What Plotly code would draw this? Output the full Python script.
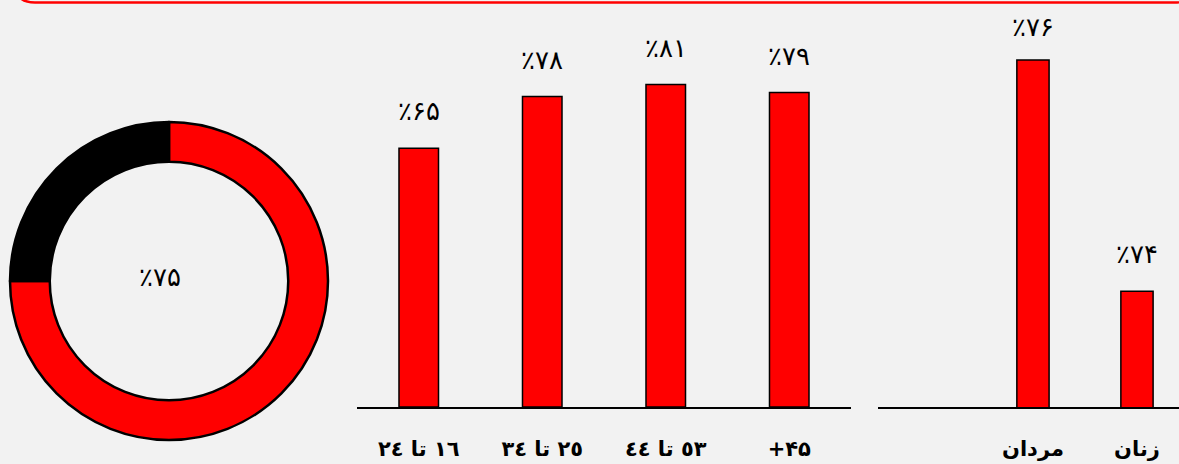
import plotly.graph_objects as go

W, H = 1179, 464

# ---------------- data ----------------
donut_labels = ["بله", "خیر"]
donut_values = [75, 25]
donut_center_text = "٪۷۵"

age_categories = ["١٦ تا ٢٤", "٢٥ تا ٣٤", "٥٣ تا ٤٤", "+۴۵"]
age_values = [65, 78, 81, 79]
age_value_labels = ["٪۶۵", "٪۷۸", "٪۸۱", "٪۷۹"]

gender_categories = ["مردان", "زنان"]
gender_values = [76, 74]
gender_value_labels = ["٪۷۶", "٪۷۴"]

# ---------------- helpers ----------------
def px(x):
    return x / W

def py(y):
    return 1 - y / H

BG = "#f2f2f2"
RED = "#ff0000"
FONT = "DejaVu Sans"

fig = go.Figure()

# Donut
fig.add_trace(go.Pie(
    labels=donut_labels, values=donut_values,
    hole=0.75, sort=False, direction="clockwise", rotation=0,
    marker=dict(colors=[RED, "#000000"], line=dict(color="#000000", width=2.5)),
    textinfo="none", hoverinfo="label+percent", showlegend=False,
    domain=dict(x=[px(169 - 159), px(169 + 159)], y=[py(281 + 159), py(281 - 159)]),
))

# Age bars
fig.add_trace(go.Bar(
    x=age_categories, y=age_values, xaxis="x", yaxis="y",
    width=0.32, marker=dict(color=RED, line=dict(color="#000000", width=1.5)),
    showlegend=False,
))

# Gender bars
fig.add_trace(go.Bar(
    x=gender_categories, y=gender_values, xaxis="x2", yaxis="y2",
    width=0.31, marker=dict(color=RED, line=dict(color="#000000", width=1.5)),
    showlegend=False,
))

LABEL_SIZE = 26
annotations = []
for c, v, t in zip(age_categories, age_value_labels, age_values):
    annotations.append(dict(x=c, y=t, xref="x", yref="y", text=v, showarrow=False,
                            yanchor="bottom", yshift=20,
                            font=dict(family=FONT, size=LABEL_SIZE, color="#000000")))
gender_shifts = [16, 20]
for c, v, t, s in zip(gender_categories, gender_value_labels, gender_values, gender_shifts):
    annotations.append(dict(x=c, y=t, xref="x2", yref="y2", text=v, showarrow=False,
                            yanchor="bottom", yshift=s,
                            font=dict(family=FONT, size=LABEL_SIZE, color="#000000")))
annotations.append(dict(x=px(160), y=py(277), xref="paper", yref="paper",
                        text=donut_center_text, showarrow=False,
                        xanchor="center", yanchor="middle",
                        font=dict(family=FONT, size=LABEL_SIZE, color="#000000")))

# Red rounded frame (bottom edge visible at top of picture)
def P(x, y):
    return f"{px(x):.5f},{py(y):.5f}"

frame_path = (f"M {P(15,-60)} L {P(15,-17)} Q {P(15,2.5)} {P(35,2.5)} "
              f"L {P(1175,2.5)} Q {P(1195,2.5)} {P(1195,-17)} L {P(1195,-60)}")

TOP = 10
BASE = 407
ydom = [py(BASE), py(TOP)]
range1 = [0, (BASE - TOP) / 3.98]
range2 = [73, 73 + (BASE - TOP) / 115.7]

fig.update_layout(
    width=W, height=H,
    margin=dict(l=0, r=0, t=0, b=0),
    paper_bgcolor=BG, plot_bgcolor=BG,
    font=dict(family=FONT, color="#000000"),
    xaxis=dict(domain=[px(357), px(851)], type="category",
               categoryorder="array", categoryarray=age_categories,
               tickvals=age_categories,
               ticktext=[f"<b>{c}</b>" for c in age_categories],
               tickfont=dict(family=FONT, size=21, color="#000000"),
               showline=True, linecolor="#000000", linewidth=1.5,
               ticks="", ticklabelstandoff=22, showgrid=False, zeroline=False,
               fixedrange=True),
    yaxis=dict(domain=ydom, range=range1, visible=False, showgrid=False,
               zeroline=False),
    xaxis2=dict(domain=[px(878), 1.0], type="category",
                categoryorder="array", categoryarray=gender_categories,
                range=[-1.49, 1.404],
                tickvals=gender_categories,
                ticktext=[f"<b>{c}</b>" for c in gender_categories],
                tickfont=dict(family=FONT, size=21, color="#000000"),
                showline=True, linecolor="#000000", linewidth=1.5,
                ticks="", ticklabelstandoff=22, showgrid=False, zeroline=False,
                anchor="y2"),
    yaxis2=dict(domain=ydom, range=range2, visible=False,
                showgrid=False, zeroline=False, anchor="x2"),
    annotations=annotations,
    shapes=[dict(type="path", xref="paper", yref="paper", path=frame_path,
                 line=dict(color=RED, width=2.5))],
)

fig.write_html(
    "out.html",
    config={"displayModeBar": False},
    post_script="document.body.style.margin='0';document.body.style.padding='0';"
                "document.documentElement.style.background='#f2f2f2';",
)
